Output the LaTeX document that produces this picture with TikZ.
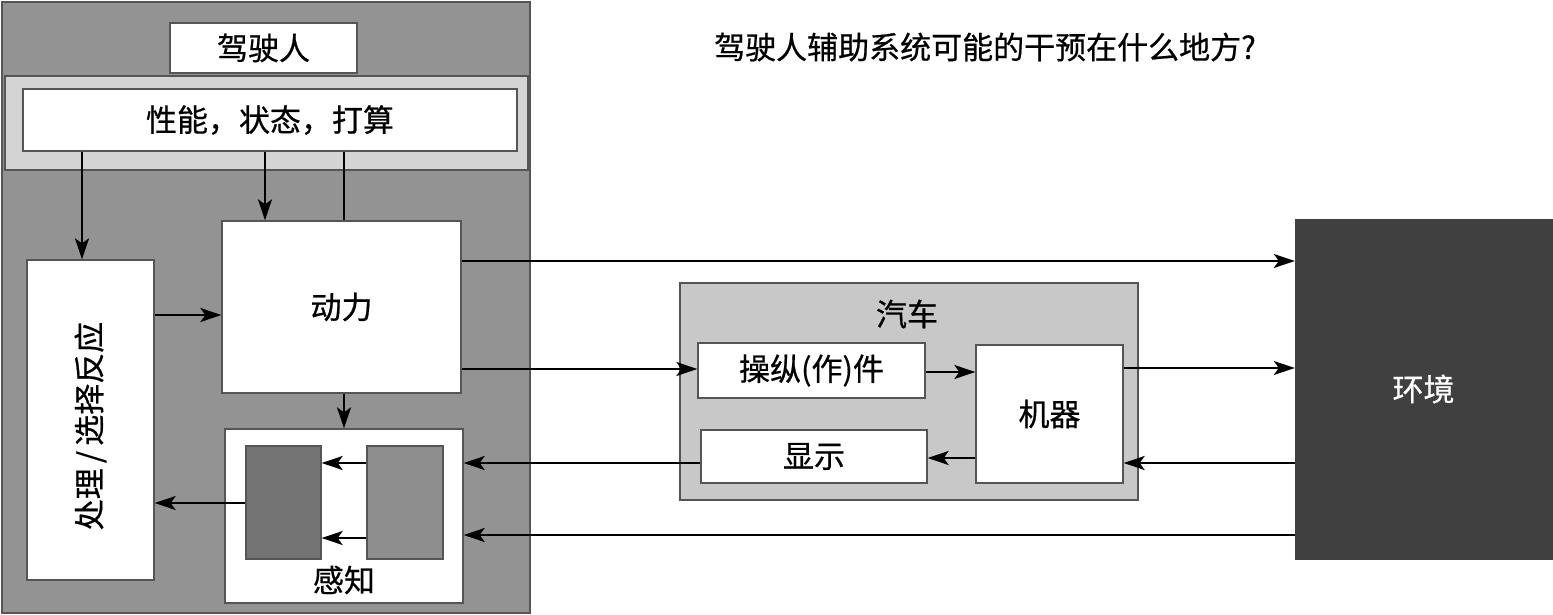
\documentclass[tikz,border=0pt]{standalone}
\usepackage{fontspec}
\setmainfont{Noto Sans CJK SC}[FakeBold=0.6]
\usetikzlibrary{arrows.meta,calc}
\definecolor{drvgray}{HTML}{939393}
\definecolor{bandgray}{HTML}{D4D4D4}
\definecolor{cargray}{HTML}{C8C8C8}
\definecolor{envgray}{HTML}{404040}
\definecolor{pdarkgray}{HTML}{747474}
\definecolor{plightgray}{HTML}{8E8E8E}
\definecolor{edgegray}{HTML}{555555}
\tikzset{
  box/.style={draw=edgegray, line width=1.3pt, inner sep=0pt, fill=white},
  lbl/.style={font=\fontsize{31}{36}\selectfont},
  arr/.style={line width=2.2pt, -{Stealth[length=21pt, width=14pt, inset=5pt]}},
  plain/.style={line width=2.2pt}
}
\begin{document}
\begin{tikzpicture}[x=1pt,y=-1pt]
\useasboundingbox (0,0) rectangle (1553,615);
\fill[white] (0,0) rectangle (1553,615);
% driver
\draw[box, fill=drvgray] (2,2) rectangle (530,613);
\draw[box, fill=bandgray] (5,76) rectangle (528,170);
\node[box, lbl, minimum width=187, minimum height=50] (drvtitle) at (263.5,48) {驾驶人};
\node[box, lbl, minimum width=494, minimum height=62] (state) at (270,120) {性能，状态，打算};
\node[box, minimum width=127, minimum height=320] (proc) at (90.5,420) {};
\node[lbl, rotate=90] at (90.5,426) {处理\,/\,选择反应};
\node[box, lbl, minimum width=239, minimum height=172] (motor) at (341.5,307) {动力};
\node[box, minimum width=238, minimum height=174] (perc) at (344,516) {};
\node[lbl] (perclbl) at (344,580) {感知};
\node[box, fill=pdarkgray, minimum width=75, minimum height=113] (pdark) at (283.5,502.5) {};
\node[box, fill=plightgray, minimum width=76, minimum height=113] (plight) at (405,502.5) {};
% car
\node[box, fill=cargray, minimum width=458, minimum height=217] (car) at (909,391.5) {};
\node[lbl] (carlbl) at (907,314) {汽车};
\node[box, lbl, minimum width=227, minimum height=55] (ctrl) at (811.5,370.5) {操纵(作)件};
\node[box, lbl, minimum width=226, minimum height=53] (disp) at (814,456.5) {显示};
\node[box, lbl, minimum width=147, minimum height=138] (mach) at (1049.5,414) {机器};
% environment
\node[draw=envgray, fill=envgray, inner sep=0pt, minimum width=257, minimum height=340, lbl, text=white] (env) at (1423.5,389) {环境};
% title
\node[lbl] (title) at (985,47) {驾驶人辅助系统可能的干预在什么地方?};
% x/y guide coordinates
\coordinate (xa) at (82,0);
\coordinate (xb) at (265,0);
\coordinate (xc) at (344,0);
\coordinate (y1) at (0,315);
\coordinate (y2) at (0,261);
\coordinate (y3) at (0,369);
\coordinate (y4) at (0,372);
\coordinate (y5) at (0,368);
\coordinate (y6) at (0,463);
\coordinate (y7) at (0,458);
\coordinate (y8) at (0,535);
\coordinate (y9) at (0,538);
\coordinate (y10) at (0,503);
% arrows
\draw[arr] (state.south -| xa) -- (proc.north -| xa);
\draw[arr] (state.south -| xb) -- (motor.north -| xb);
\draw[plain] (state.south -| xc) -- (motor.north -| xc);
\draw[arr] (proc.east |- y1) -- (motor.west |- y1);
\draw[arr] (motor.south -| xc) -- (perc.north -| xc);
\draw[arr] (motor.east |- y2) -- (env.west |- y2);
\draw[arr] (motor.east |- y3) -- (ctrl.west |- y3);
\draw[arr] (ctrl.east |- y4) -- (mach.west |- y4);
\draw[arr] (mach.east |- y5) -- (env.west |- y5);
\draw[arr] (env.west |- y6) -- (mach.east |- y6);
\draw[arr] (mach.west |- y7) -- (disp.east |- y7);
\draw[arr] (disp.west |- y6) -- (perc.east |- y6);
\draw[arr] (env.west |- y8) -- (perc.east |- y8);
\draw[arr] (plight.west |- y6) -- (pdark.east |- y6);
\draw[arr] (plight.west |- y9) -- (pdark.east |- y9);
\draw[arr] (pdark.west |- y10) -- (proc.east |- y10);
\end{tikzpicture}
\end{document}
